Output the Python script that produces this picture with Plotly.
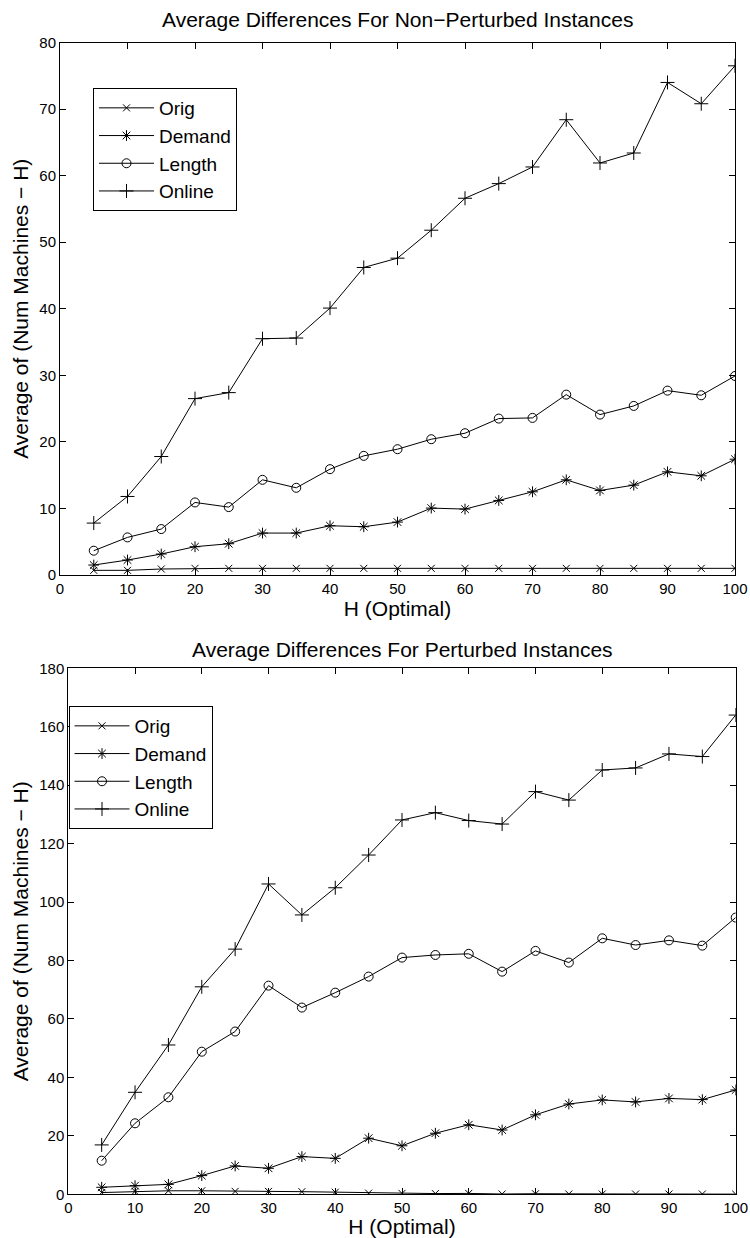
import plotly.graph_objects as go

H = [5, 10, 15, 20, 25, 30, 35, 40, 45, 50, 55, 60, 65, 70, 75, 80, 85, 90, 95, 100]

# Non-perturbed instances
np_orig = [0.7, 0.7, 0.9, 1.0, 1.0, 1.0, 1.0, 1.0, 1.0, 1.0, 1.0, 1.0, 1.0, 1.0, 1.0, 1.0, 1.0, 1.0, 1.0, 1.0]
np_demand = [1.5, 2.25, 3.15, 4.25, 4.7, 6.3, 6.3, 7.4, 7.25, 7.95, 10.05, 9.9, 11.2, 12.5, 14.3, 12.7, 13.5, 15.5, 14.9, 17.4]
np_length = [3.65, 5.65, 6.9, 10.9, 10.2, 14.3, 13.1, 15.9, 17.9, 18.9, 20.4, 21.3, 23.5, 23.6, 27.1, 24.1, 25.4, 27.7, 27.0, 29.9]
np_online = [7.8, 11.8, 17.8, 26.5, 27.4, 35.5, 35.6, 40.1, 46.2, 47.6, 51.8, 56.6, 58.8, 61.3, 68.4, 61.9, 63.4, 74.0, 70.8, 76.5]

# Perturbed instances
p_orig = [0.6, 1.0, 1.2, 1.2, 1.0, 1.0, 0.9, 0.7, 0.4, 0.3, 0.25, 0.3, 0.1, 0.2, 0.1, 0.1, 0.1, 0.1, 0.1, 0.05]
p_demand = [2.4, 2.95, 3.4, 6.4, 9.7, 8.9, 12.9, 12.3, 19.2, 16.6, 20.9, 23.8, 22.0, 27.2, 30.9, 32.3, 31.6, 32.8, 32.4, 35.7]
p_length = [11.5, 24.3, 33.2, 48.8, 55.7, 71.4, 63.9, 69.0, 74.5, 81.0, 81.9, 82.3, 76.2, 83.3, 79.3, 87.6, 85.3, 86.9, 85.1, 94.7]
p_online = [16.9, 34.9, 51.1, 71.0, 83.9, 106.2, 95.6, 104.9, 116.1, 128.1, 130.6, 127.9, 126.7, 137.8, 134.9, 145.2, 145.9, 150.7, 149.8, 164.0]

names = ["Orig", "Demand", "Length", "Online"]
symbols = ["x-thin-open", "asterisk-open", "circle-open", "cross-thin-open"]
sizes = [7, 9, 9, 10]

W, Hh = 750, 1238
FONT = "Liberation Sans, Arial, Helvetica, sans-serif"

fig = go.Figure()

top_series = [np_orig, np_demand, np_length, np_online]
bot_series = [p_orig, p_demand, p_length, p_online]

for name, sym, sz, ys in zip(names, symbols, sizes, top_series):
    fig.add_trace(go.Scatter(
        x=H, y=ys, name=name, mode="lines+markers",
        line=dict(color="black", width=1),
        marker=dict(symbol=sym, size=sz, color="black", line=dict(color="black", width=1)),
        xaxis="x", yaxis="y", legend="legend",
    ))

for name, sym, sz, ys in zip(names, symbols, sizes, bot_series):
    fig.add_trace(go.Scatter(
        x=H, y=ys, name=name, mode="lines+markers",
        line=dict(color="black", width=1),
        marker=dict(symbol=sym, size=sz, color="black", line=dict(color="black", width=1)),
        xaxis="x2", yaxis="y2", legend="legend2",
    ))

def px_x(p):
    return p / W

def px_y(p):
    return 1 - p / Hh

axis_common = dict(
    showline=True, linecolor="black", linewidth=1, mirror="ticks",
    ticks="inside", ticklen=6, tickcolor="black", tickwidth=1,
    showgrid=False, zeroline=False, automargin=False,
    tickfont=dict(family=FONT, size=15, color="black"),
)

ylabel = "Average of (Num Machines \u2212 H)"
TF = dict(family=FONT, size=21, color="black")
LF = dict(family=FONT, size=19, color="black")

fig.update_layout(
    width=W, height=Hh,
    margin=dict(l=0, r=0, t=0, b=0),
    paper_bgcolor="white", plot_bgcolor="white",
    font=dict(family=FONT, color="black"),
    xaxis=dict(domain=[px_x(60), px_x(735)], range=[0, 100], dtick=10, anchor="y",
               title=dict(text="H (Optimal)", font=TF, standoff=4), **axis_common),
    yaxis=dict(domain=[px_y(575), px_y(42.5)], range=[0, 80], dtick=10, anchor="x",
               title=dict(text=ylabel, font=TF, standoff=4), **axis_common),
    xaxis2=dict(domain=[px_x(68.3), px_x(735.7)], range=[0, 100], dtick=10, anchor="y2",
                title=dict(text="H (Optimal)", font=TF, standoff=4), **axis_common),
    yaxis2=dict(domain=[px_y(1194.3), px_y(668.3)], range=[0, 180], dtick=20, anchor="x2",
                title=dict(text=ylabel, font=TF, standoff=4), **axis_common),
    legend=dict(x=px_x(93), y=px_y(88), xanchor="left", yanchor="top",
                bgcolor="white", bordercolor="black", borderwidth=1,
                font=LF, tracegroupgap=0, itemwidth=55),
    legend2=dict(x=px_x(68.5), y=px_y(706), xanchor="left", yanchor="top",
                 bgcolor="white", bordercolor="black", borderwidth=1,
                 font=LF, tracegroupgap=0, itemwidth=55),
    annotations=[
        dict(text="Average Differences For Non\u2212Perturbed Instances",
             x=(px_x(60) + px_x(735)) / 2, y=px_y(20), xref="paper", yref="paper",
             xanchor="center", yanchor="middle", showarrow=False, font=TF),
        dict(text="Average Differences For Perturbed Instances",
             x=(px_x(68.3) + px_x(735.7)) / 2, y=px_y(649), xref="paper", yref="paper",
             xanchor="center", yanchor="middle", showarrow=False, font=TF),
    ],
)

# remove the default page margin so the figure sits at the window's top-left corner
fig.write_html(
    "out.html",
    config={"displayModeBar": False},
    post_script="document.body.style.margin='0';document.body.style.overflow='hidden';",
)
